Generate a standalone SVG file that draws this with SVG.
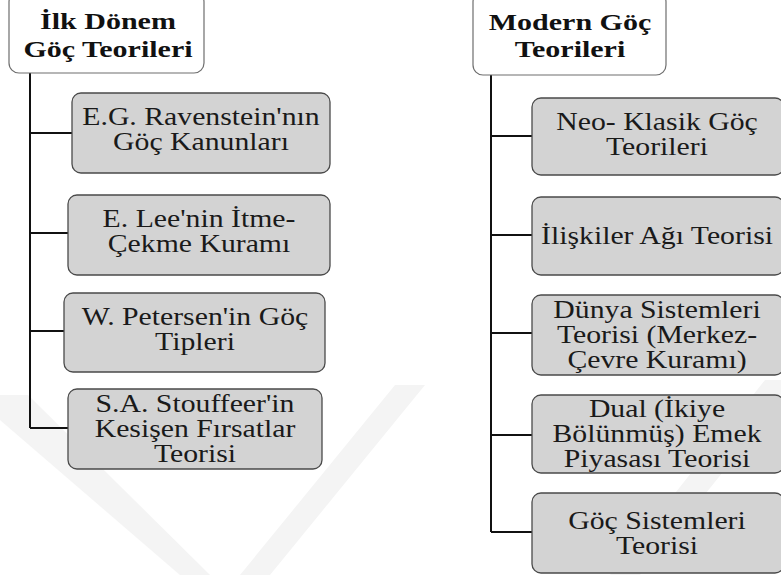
<svg xmlns="http://www.w3.org/2000/svg" width="781" height="575" viewBox="0 0 781 575">
<style>
.hdr{fill:#ffffff;stroke:#6e6e6e;stroke-width:1.2}
.box{fill:#d3d3d3;stroke:#4a4a4a;stroke-width:1.3}
.ht{font-family:"Liberation Serif","Times New Roman",serif;font-weight:bold;font-size:24px;fill:#111;text-anchor:middle}
.ct{font-family:"Liberation Serif","Times New Roman",serif;font-size:25px;fill:#1a1a1a;text-anchor:middle}
.ln{stroke:#111;stroke-width:2;fill:none}
.wm{fill:#f4f4f4}
</style>
<rect width="781" height="575" fill="#ffffff"/>
<g id="watermark">
<polygon class="wm" points="0,395 28,395 210,575 180,575 0,420"/>
<polygon class="wm" points="395,385 425,385 270,575 240,575"/>
<polygon class="wm" points="765,380 781,380 781,400 640,575 610,575"/>
</g>
<g id="connectors">
<path class="ln" d="M30,73 V428 M30,133 H72 M30,233 H68 M30,331 H64 M30,428 H68"/>
<path class="ln" d="M491,75 V532 M491,136 H532 M491,235 H532 M491,333 H532 M491,435 H532 M491,532 H532"/>
</g>
<g id="left-header">
<rect class="hdr" x="9" y="-8" width="195" height="81" rx="10"/>
<g transform="translate(108,0) scale(1.25,1)"><text class="ht" x="0" y="29">İlk Dönem</text><text class="ht" x="0" y="57">Göç Teorileri</text></g>
</g>
<g id="ravenstein">
<rect class="box" x="72" y="93" width="258" height="80" rx="9"/>
<g transform="translate(201,0) scale(1.19,1)"><text class="ct" x="0" y="125">E.G. Ravenstein'nın</text><text class="ct" x="0" y="150">Göç Kanunları</text></g>
</g>
<g id="lee">
<rect class="box" x="68" y="195" width="262" height="80" rx="9"/>
<g transform="translate(199,0) scale(1.19,1)"><text class="ct" x="0" y="227">E. Lee'nin İtme-</text><text class="ct" x="0" y="252">Çekme Kuramı</text></g>
</g>
<g id="petersen">
<rect class="box" x="64" y="293" width="261" height="79" rx="9"/>
<g transform="translate(195,0) scale(1.19,1)"><text class="ct" x="0" y="325">W. Petersen'in Göç</text><text class="ct" x="0" y="350">Tipleri</text></g>
</g>
<g id="stouffer">
<rect class="box" x="68" y="389" width="254" height="80" rx="9"/>
<g transform="translate(195,0) scale(1.19,1)"><text class="ct" x="0" y="412">S.A. Stouffeer'in</text><text class="ct" x="0" y="437">Kesişen Fırsatlar</text><text class="ct" x="0" y="462">Teorisi</text></g>
</g>
<g id="right-header">
<rect class="hdr" x="473" y="-8" width="193" height="83" rx="10"/>
<g transform="translate(570,0) scale(1.25,1)"><text class="ht" x="0" y="30">Modern Göç</text><text class="ht" x="0" y="57">Teorileri</text></g>
</g>
<g id="neoklasik">
<rect class="box" x="532" y="98" width="252" height="77" rx="9"/>
<g transform="translate(657,0) scale(1.19,1)"><text class="ct" x="0" y="130">Neo- Klasik Göç</text><text class="ct" x="0" y="155">Teorileri</text></g>
</g>
<g id="iliskiler">
<rect class="box" x="532" y="197" width="252" height="78" rx="9"/>
<g transform="translate(657,0) scale(1.19,1)"><text class="ct" x="0" y="244">İlişkiler  Ağı Teorisi</text></g>
</g>
<g id="dunya">
<rect class="box" x="532" y="295" width="252" height="80" rx="9"/>
<g transform="translate(657,0) scale(1.19,1)"><text class="ct" x="0" y="318">Dünya Sistemleri</text><text class="ct" x="0" y="343">Teorisi (Merkez-</text><text class="ct" x="0" y="368">Çevre Kuramı)</text></g>
</g>
<g id="dual">
<rect class="box" x="532" y="395" width="252" height="78" rx="9"/>
<g transform="translate(657,0) scale(1.19,1)"><text class="ct" x="0" y="417">Dual (İkiye</text><text class="ct" x="0" y="442">Bölünmüş) Emek</text><text class="ct" x="0" y="467">Piyasası Teorisi</text></g>
</g>
<g id="gocsistem">
<rect class="box" x="532" y="493" width="252" height="80" rx="9"/>
<g transform="translate(657,0) scale(1.19,1)"><text class="ct" x="0" y="529">Göç Sistemleri</text><text class="ct" x="0" y="554">Teorisi</text></g>
</g>
</svg>
